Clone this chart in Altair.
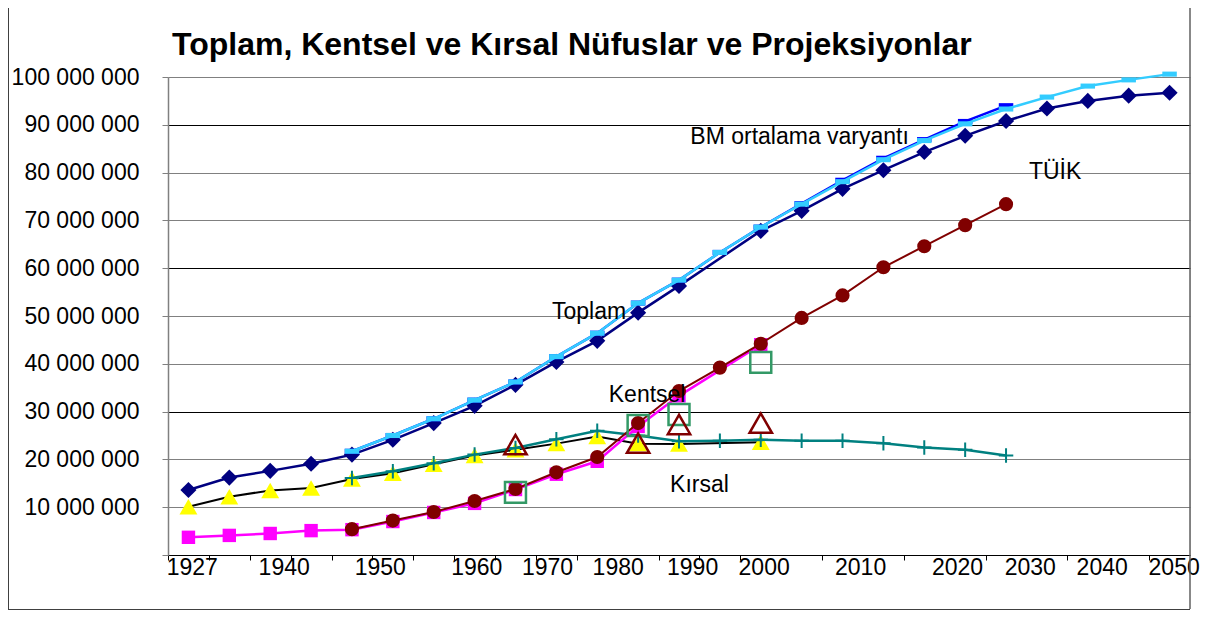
import altair as alt
import pandas as pd

FONT = "Liberation Sans"

# Category axis: one slot per year (equally spaced, as in the original category chart)
years = [1927, 1935, 1940, 1945, 1950, 1955, 1960, 1965, 1970, 1975, 1980, 1985, 1990,
         1995, 2000, 2005, 2010, 2015, 2020, 2025, 2030, 2035, 2040, 2045, 2050]

N = None
# values in millions, one entry per category (None = no point)
toplam = [13.6, 16.2, 17.6, 19.1, 21.0, 24.1, 27.6, 31.2, 35.6, 40.4, 44.8, 50.7, 56.3, N,
          67.8, 72.0, 76.6, 80.5, 84.3, 87.7, 90.8, 93.4, 95.0, 96.1, 96.7]
bm_orta = [N, N, N, N, 21.7, 25.0, 28.5, 32.4, 36.2, 41.5, 46.4, 52.7, 57.5, 63.3,
           68.6, 73.4, 78.1, 82.7, 86.7, 90.2, 93.3, 95.8, 98.1, 99.4, 100.6]
tuik = [N, N, N, N, 21.7, 25.0, 28.5, 32.4, 36.2, 41.5, 46.4, 52.7, 57.5, 63.3,
        68.6, 73.5, 78.4, 83.0, 86.9, 90.7, 94.0, N, N, N, N]
kentsel_proj = [N, N, N, N, 5.4, 7.2, 9.0, 11.3, 13.8, 17.3, 20.5, 27.6, 34.3, 39.2,
                44.2, 49.6, 54.3, 60.2, 64.6, 69.0, 73.4, N, N, N, N]
kentsel = [3.7, 4.1, 4.5, 5.1, 5.3, 7.0, 8.9, 10.8, 13.7, 16.9, 19.6, 26.9, 33.3, N,
           44.0, N, N, N, N, N, N, N, N, N, N]
kirsal = [10.1, 12.2, 13.5, 14.0, 15.9, 17.1, 19.0, 20.8, 22.0, 23.3, 24.8, 23.3, 23.2, N,
          23.6, N, N, N, N, N, N, N, N, N, N]
kirsal_proj = [N, N, N, N, 16.1, 17.5, 19.2, 21.0, 22.4, 24.2, 26.0, 25.0, 23.8, 23.9,
               24.1, 23.9, 23.9, 23.4, 22.5, 22.0, 20.8, N, N, N, N]
kentsel_alt = [N, N, N, N, N, N, N, N, 13.1, N, N, 27.1, 29.4, N,
               40.3, N, N, N, N, N, N, N, N, N, N]
kirsal_alt = [N, N, N, N, N, N, N, N, 23.1, N, N, 23.4, 27.3, N,
              27.6, N, N, N, N, N, N, N, N, N, N]

# axis text
x_label_pos = [0.08, 2.33, 4.68, 7.04, 8.77, 10.5, 12.32, 14.07, 16.43, 18.8, 20.58, 22.34, 24.1]
x_label_txt = ["1927", "1940", "1950", "1960", "1970", "1980", "1990", "2000",
               "2010", "2020", "2030", "2040", "2050"]
x_tick_pos = [-0.5, 0.5, 1.5, 2.5, 3.5, 4.5, 5.5, 6.5, 7.5, 8.5, 9.5, 11.5, 12.5, 13.5,
              15.5, 17.5, 19.5, 21.5, 23.5]
y_ticks = [0, 10e6, 20e6, 30e6, 40e6, 50e6, 60e6, 70e6, 80e6, 90e6, 100e6]

# in-chart labels
ann_txt = ["Toplam", "BM ortalama varyantı", "TÜİK", "Kentsel", "Kırsal"]
ann_pos = [9.8, 14.95, 21.2, 11.22, 12.5]
ann_val = [50.8, 87.4, 80.2, 33.5, 14.7]

title_txt = "Toplam, Kentsel ve Kırsal Nüfuslar ve Projeksiyonlar"

W, H = 1022, 478


def frame(vals):
    return pd.DataFrame([{"i": k, "v": v * 1e6, "year": years[k]}
                         for k, v in enumerate(vals) if v is not None])


xscale = alt.Scale(domain=[-0.5, 24.5], nice=False, zero=False)
yscale = alt.Scale(domain=[0, 100e6], nice=False, zero=True)

x_tick_axis = alt.Axis(values=x_tick_pos, labels=False, ticks=True, tickSize=5,
                       tickColor="black", tickWidth=1, domainColor="black", domainWidth=1,
                       grid=False, title=None, orient="bottom")
y_axis = alt.Axis(values=y_ticks, title=None, grid=True,
                  gridColor={"condition": {"test": "datum.value % 30000000 === 0 && datum.value > 0",
                                           "value": "#000000"},
                             "value": "#808080"},
                  gridWidth=1, domainColor="#808080", domainWidth=1.5, tickColor="#808080",
                  tickSize=6, tickWidth=1, labelFont=FONT, labelFontSize=23, labelColor="black",
                  labelPadding=23, labelFlush=False,
                  labelExpr="datum.value == 0 ? '' : format(datum.value / 1000000, 'd') + ' 000 000'")

X = alt.X("i:Q", scale=xscale, axis=x_tick_axis)
Y = alt.Y("v:Q", scale=yscale, axis=y_axis)

DASH = "M-1,-0.35L1,-0.35L1,0.35L-1,0.35Z"
PLUS = "M-1,0L1,0M0,-1L0,1"


def line(vals, color, width):
    return alt.Chart(frame(vals)).mark_line(color=color, strokeWidth=width).encode(x=X, y=Y)


def points(vals, shape, size, fill=None, stroke=None, sw=0):
    kw = dict(shape=shape, size=size, opacity=1, strokeWidth=sw)
    if fill:
        kw["fill"] = fill
        kw["filled"] = True
    else:
        kw["filled"] = False
        kw["fill"] = "transparent"
    if stroke:
        kw["stroke"] = stroke
    return alt.Chart(frame(vals)).mark_point(**kw).encode(x=X, y=Y)


series = [
    line(kirsal, "black", 2),
    points(kirsal, "triangle-up", 320, fill="#FFFF00"),
    line(kirsal_proj, "#008080", 2.5),
    points(kirsal_proj, PLUS, 210, stroke="#008080", sw=2),
    line(kentsel, "#FF00FF", 2.5),
    points(kentsel, "square", 180, fill="#FF00FF"),
    line(kentsel_proj, "#800000", 2),
    points(kentsel_proj, "circle", 200, fill="#800000"),
    points(kentsel_alt, "square", 440, stroke="#339966", sw=2.5),
    points(kirsal_alt, "triangle-up", 500, stroke="#800000", sw=2.5),
    line(toplam, "#000080", 2.5),
    points(toplam, "diamond", 260, fill="#000080"),
    line(tuik, "#0000FF", 2.5),
    points(tuik, DASH, 210, fill="#0000FF"),
    line(bm_orta, "#33CCFF", 2.5),
    points(bm_orta, DASH, 210, fill="#33CCFF"),
]

inner = alt.layer(*series)

# annotation layer carries the labelled x axis
ann_df = pd.DataFrame({"t": ann_txt, "i": ann_pos, "v": [v * 1e6 for v in ann_val]})
label_expr = " : ".join(
    f"abs(datum.value - {p}) < 0.001 ? '{t}'" for p, t in zip(x_label_pos, x_label_txt)
) + " : ''"
x_label_axis = alt.Axis(values=x_label_pos, labelExpr=label_expr, ticks=False, domain=False,
                       grid=False, title=None, orient="bottom", labelFont=FONT,
                       labelFontSize=23, labelColor="black", labelPadding=1,
                       labelFlush=False, labelOverlap=False, labelBound=False)
ann = alt.Chart(ann_df).mark_text(font=FONT, fontSize=23, align="center", baseline="middle",
                                  color="black").encode(
    x=alt.X("i:Q", scale=xscale, axis=x_label_axis), y=Y, text="t:N")

one = pd.DataFrame({"t": [title_txt]})
title = alt.Chart(one).mark_text(font=FONT, fontSize=32, fontWeight="bold", align="left",
                                 baseline="alphabetic", color="black").encode(
    x=alt.value(4), y=alt.value(-22), text="t:N")

right_border = alt.Chart(one).mark_rule(color="#606060", strokeWidth=1.5).encode(
    x=alt.value(W), y=alt.value(-77), y2=alt.value(H + 54))
left_frame = alt.Chart(one).mark_rule(color="#404040", strokeWidth=1).encode(
    x=alt.value(-159.5), y=alt.value(-77), y2=alt.value(H + 55))
bottom_frame = alt.Chart(one).mark_rule(color="#404040", strokeWidth=1).encode(
    x=alt.value(-160), x2=alt.value(W), y=alt.value(H + 54.5))

chart = alt.layer(inner, ann, title, right_border, left_frame, bottom_frame
                  ).resolve_axis(x="independent").properties(
    width=W, height=H,
    autosize=alt.AutoSizeParams(type="none"),
    padding={"left": 160, "top": 69, "right": 17, "bottom": 55},
).configure_view(stroke=None).configure(background="white")

chart.save("out.html", embed_options={"renderer": "svg", "actions": False})
